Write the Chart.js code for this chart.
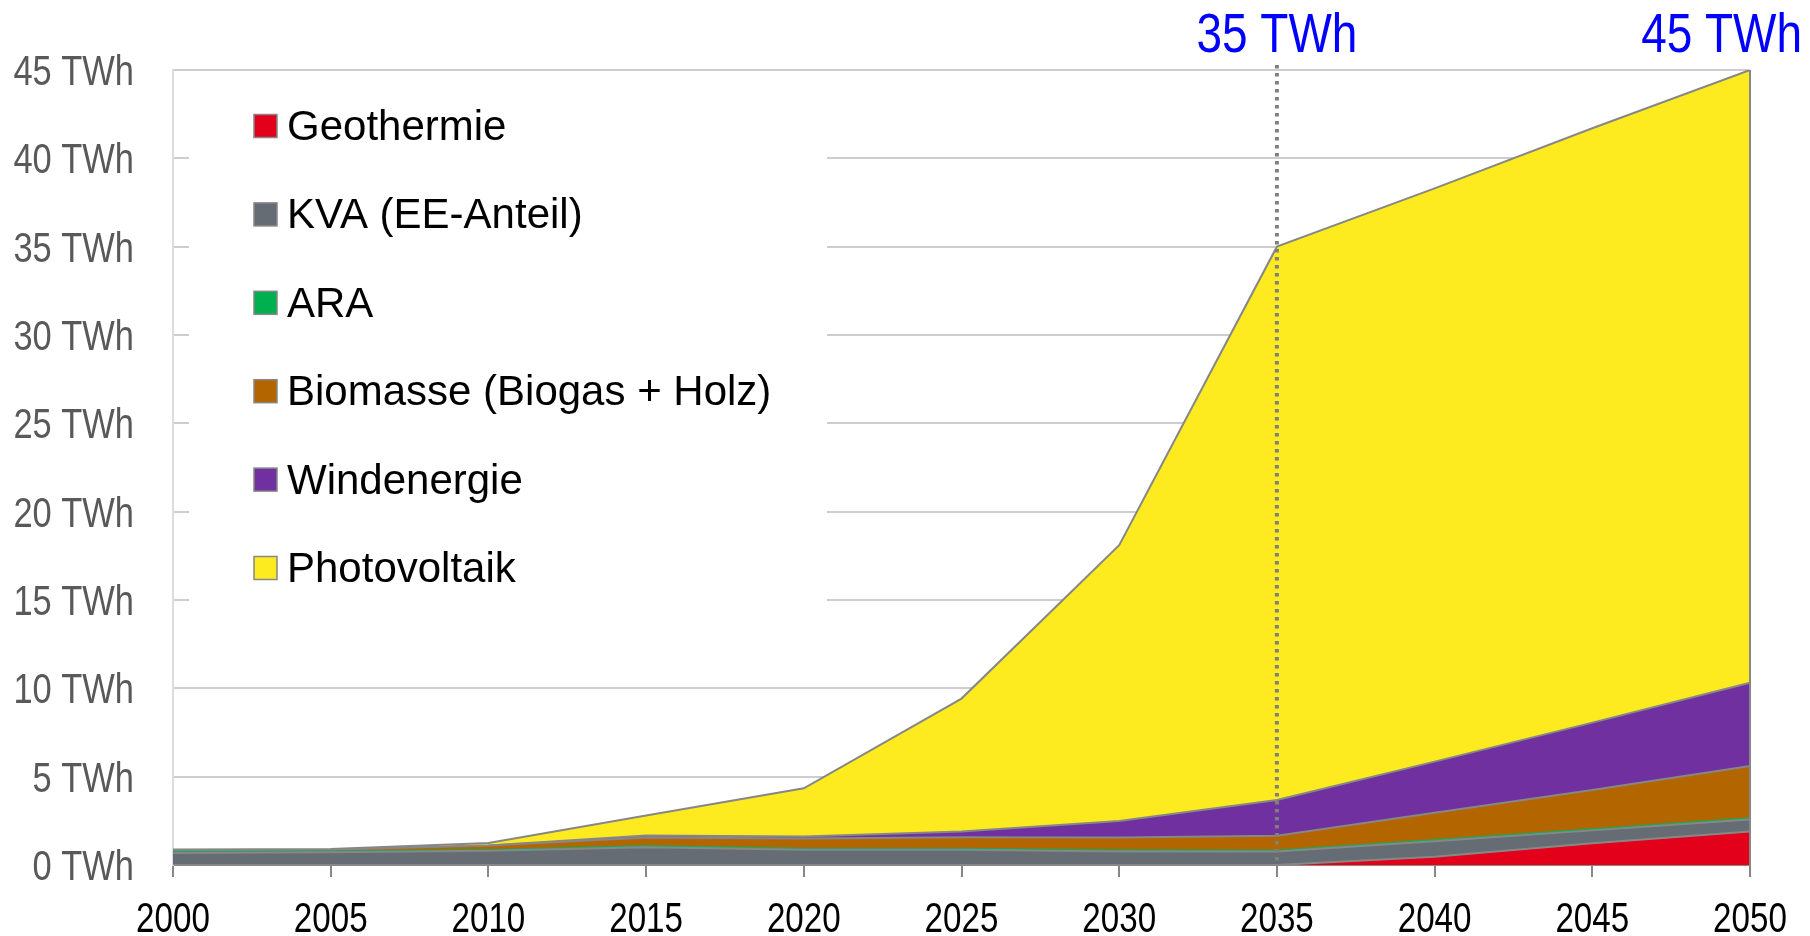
<!DOCTYPE html>
<html>
<head>
<meta charset="utf-8">
<script src="https://cdn.jsdelivr.net/npm/chart.js@4/dist/chart.umd.min.js"></script>
<style>
  body { margin: 0; background: #fff; }
  canvas { display: block; }
</style>
</head>
<body>
<canvas id="chart" width="1810" height="936"></canvas>
<script>
// Data (TWh per source, stacked)
const years = ['2000', '2005', '2010', '2015', '2020', '2025', '2030', '2035', '2040', '2045', '2050'];
const geothermie = [0, 0, 0, 0, 0, 0, 0, 0, 0.47, 1.23, 1.89];
const kva = [0.68, 0.72, 0.8, 1.0, 0.86, 0.86, 0.77, 0.76, 0.88, 0.73, 0.69];
const ara = [0.05, 0.05, 0.05, 0.07, 0.06, 0.06, 0.06, 0.06, 0.06, 0.06, 0.06];
const biomasse = [0.12, 0.1, 0.25, 0.48, 0.58, 0.65, 0.72, 0.84, 1.55, 2.23, 2.96];
const windenergie = [0, 0, 0, 0.12, 0.12, 0.32, 0.94, 2.02, 2.89, 3.81, 4.72];
const photovoltaik = [0.03, 0.03, 0.15, 1.13, 2.72, 7.53, 15.61, 31.32, 32.45, 33.64, 34.68];

const yTicks = [0, 5, 10, 15, 20, 25, 30, 35, 40, 45];
const markerYears = ['2035', '2050'];
const markerLabels = ['35 TWh', '45 TWh'];

const SANS = "'Liberation Sans', Arial, sans-serif";
const EDGE = '#878787';
// no Arial Narrow installed, squeeze Liberation Sans instead

function series(label, data, color, fill, border) {
    return {
        label: label,
        data: data,
        backgroundColor: color,
        borderColor: border || EDGE,
        borderWidth: 2,
        pointRadius: 0,
        tension: 0,
        fill: fill
    };
}

function narrowText(ctx, text, x, y, align, size, color, squeeze) {
    ctx.save();
    ctx.translate(x, y);
    ctx.scale(squeeze, 1);
    ctx.font = size + 'px ' + SANS;
    ctx.fillStyle = color;
    ctx.textAlign = align;
    ctx.textBaseline = 'alphabetic';
    ctx.fillText(text, 0, 0);
    ctx.restore();
}

// legend drawn inside the plot, on a white panel that hides the grid
const legendPanel = {
    id: 'legendPanel',
    beforeDatasetsDraw(chart) {
        const ctx = chart.ctx;
        const area = chart.chartArea;
        ctx.save();
        ctx.fillStyle = '#fff';
        ctx.fillRect(area.left + 16, area.top + 10, 638, 565);
        chart.data.datasets.forEach((ds, i) => {
            const cy = area.top + 56 + i * 88.4;
            ctx.fillStyle = ds.backgroundColor;
            ctx.fillRect(area.left + 81, cy - 11.5, 23, 23);
            ctx.strokeStyle = EDGE;
            ctx.lineWidth = 1.5;
            ctx.strokeRect(area.left + 81, cy - 11.5, 23, 23);
            ctx.fillStyle = '#000';
            ctx.font = '42px ' + SANS;
            ctx.textAlign = 'left';
            ctx.textBaseline = 'alphabetic';
            ctx.fillText(ds.label, area.left + 114, cy + 14);
        });
        ctx.restore();
    }
};

// condensed tick labels taken from the scales
const axisLabels = {
    id: 'axisLabels',
    afterDraw(chart) {
        const ctx = chart.ctx;
        const x = chart.scales.x;
        const y = chart.scales.y;
        y.ticks.forEach(t => {
            narrowText(ctx, t.value + ' TWh', x.left - 39, y.getPixelForValue(t.value) + 15, 'right', 42, '#595959', 0.82);
        });
        x.ticks.forEach((t, i) => {
            narrowText(ctx, years[t.value], x.getPixelForTick(i), y.bottom + 67, 'center', 42, '#000', 0.79);
        });
    }
};

// dotted marker at 2035, closing edge at 2050, blue totals on top
const markers = {
    id: 'markers',
    afterDatasetsDraw(chart) {
        const ctx = chart.ctx;
        const x = chart.scales.x;
        const y = chart.scales.y;
        const x35 = x.getPixelForValue(years.indexOf(markerYears[0]));
        const x50 = x.getPixelForValue(years.indexOf(markerYears[1]));
        ctx.save();
        ctx.strokeStyle = EDGE;
        ctx.lineWidth = 2;
        ctx.beginPath();
        ctx.moveTo(x50, y.getPixelForValue(0));
        ctx.lineTo(x50, y.getPixelForValue(45));
        ctx.stroke();

        ctx.strokeStyle = '#808080';
        ctx.lineWidth = 4;
        ctx.setLineDash([3.5, 4.5]);
        ctx.beginPath();
        ctx.moveTo(x35, y.getPixelForValue(45) - 5);
        ctx.lineTo(x35, y.getPixelForValue(0));
        ctx.stroke();
        ctx.restore();

        narrowText(ctx, markerLabels[0], x35, 52, 'center', 56, '#0000ff', 0.82);
        narrowText(ctx, markerLabels[1], chart.width - 8, 52, 'right', 56, '#0000ff', 0.82);
    }
};

const ctx = document.getElementById('chart').getContext('2d');
new Chart(ctx, {
    type: 'line',
    data: {
        labels: years,
        datasets: [
            series('Geothermie', geothermie, '#e2001a', 'origin'),
            series('KVA (EE-Anteil)', kva, '#656c74', '-1'),
            series('ARA', ara, '#00b050', '-1', '#1aa85a'),
            series('Biomasse (Biogas + Holz)', biomasse, '#b36600', '-1'),
            series('Windenergie', windenergie, '#7030a0', '-1'),
            series('Photovoltaik', photovoltaik, '#fdeb1f', '-1')
        ]
    },
    options: {
        responsive: false,
        animation: false,
        layout: { padding: { left: 0, right: 60, top: 70, bottom: 0 } },
        plugins: {
            legend: { display: false },
            tooltip: { enabled: false }
        },
        scales: {
            x: {
                grid: { drawOnChartArea: false, tickLength: 12, color: EDGE, lineWidth: 2 },
                border: { color: EDGE, width: 2 },
                ticks: { display: false, autoSkip: false },
                afterFit(scale) { scale.height = 71; }
            },
            y: {
                stacked: true,
                min: 0,
                max: 45,
                afterBuildTicks(scale) { scale.ticks = yTicks.map(v => ({ value: v })); },
                grid: { drawTicks: false, color: '#cbcdcf', lineWidth: 2 },
                border: { color: '#dcdcdc', width: 2 },
                ticks: { display: false },
                afterFit(scale) { scale.width = 173; }
            }
        }
    },
    plugins: [legendPanel, axisLabels, markers]
});
</script>
</body>
</html>
